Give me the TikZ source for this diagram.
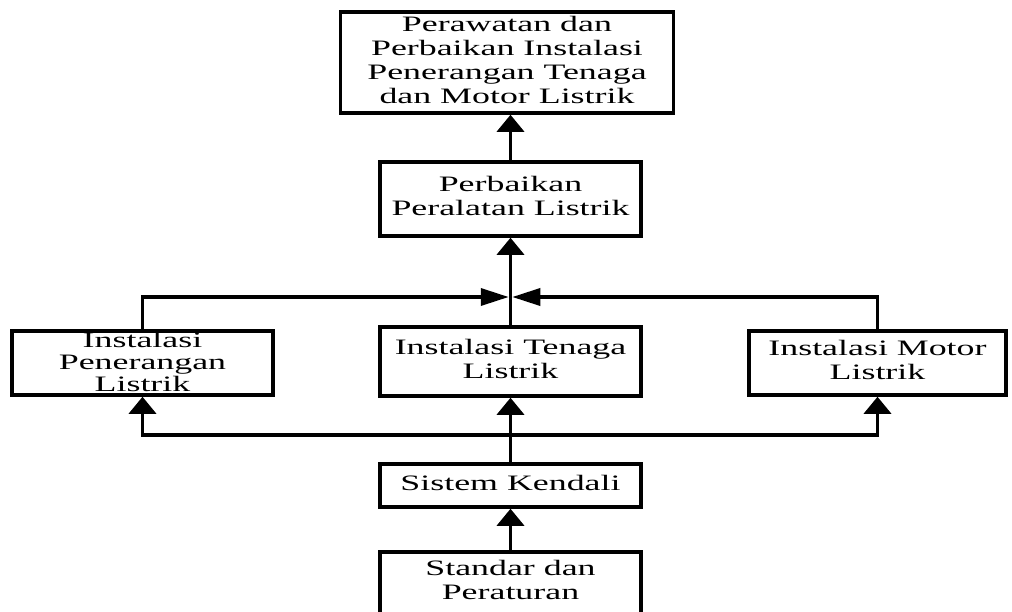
\documentclass[tikz,border=0pt]{standalone}
\usepackage{fontspec}
\usepackage{graphicx}
\setmainfont{Liberation Serif}
\usetikzlibrary{arrows.meta}
\newcommand{\widetext}[1]{\scalebox{1.63}[1]{\begin{tabular}{@{}c@{}}#1\end{tabular}}}
\begin{document}
\begin{tikzpicture}[x=1pt,y=-1pt,
  box/.style={draw,line width=3.5pt,align=center,inner sep=0pt,
    font=\fontsize{22}{24}\selectfont},
  link/.style={line width=3.5pt},
  up/.style={link,-{Triangle[width=27pt,length=17pt]}},
  side/.style={link,-{Triangle[width=17pt,length=28pt]},shorten >=1.75pt}]
  \useasboundingbox (0,0) rectangle (1012,611);
  \clip (0,0) rectangle (1012,611);
  % boxes
  \node[box,minimum width=333pt,minimum height=101pt] (rawat) at (507,62.5)
    {\widetext{Perawatan dan\\Perbaikan Instalasi\\Penerangan Tenaga\\dan Motor Listrik}};
  \node[box,minimum width=261pt,minimum height=74pt] (alat) at (510.5,199)
    {\widetext{Perbaikan\\Peralatan Listrik}};
  \node[box,minimum width=261pt,minimum height=64pt,inner ysep=-4pt,
    font=\fontsize{22}{22}\selectfont] (pener) at (142.5,363)
    {\raisebox{-2pt}[\height][\depth]{\widetext{Instalasi\\Penerangan\\Listrik}}};
  \node[box,minimum width=261pt,minimum height=69pt] (tenaga) at (510.5,361.5)
    {\widetext{Instalasi Tenaga\\Listrik}};
  \node[box,minimum width=257pt,minimum height=64pt] (motor) at (877.5,363)
    {\widetext{Instalasi Motor\\Listrik}};
  \node[box,minimum width=261pt,minimum height=43pt] (kendali) at (510.5,485.5)
    {\widetext{Sistem Kendali}};
  \node[box,minimum width=261pt,minimum height=62pt] (standar) at (510.5,583)
    {\widetext{Standar dan\\Peraturan}};
  \coordinate (split) at (510.5,435);
  \coordinate (join) at (510.5,297);
  % connectors
  \draw[up] (standar.north) -- (kendali.south);
  \draw[link] (kendali.north) -- (split);
  \draw[up] (split) -| (pener.south);
  \draw[up] (split) -| (motor.south);
  \draw[up] (split) -- (tenaga.south);
  \draw[side] (pener.north) |- (join);
  \draw[side] (motor.north) |- (join);
  \draw[up] (tenaga.north) -- (alat.south);
  \draw[up] (alat.north) -- (alat.north |- rawat.south);
\end{tikzpicture}
\end{document}
